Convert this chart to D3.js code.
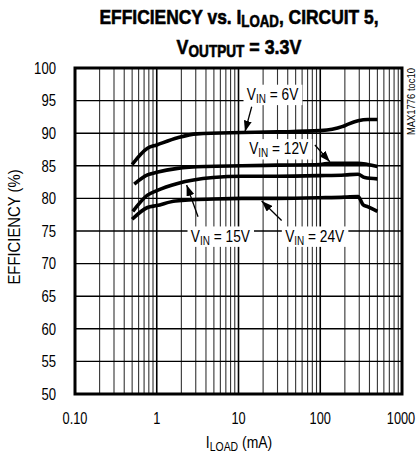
<!DOCTYPE html>
<html>
<head>
<meta charset="utf-8">
<script src="https://cdn.jsdelivr.net/npm/d3@7"></script>
<style>
body { margin: 0; background: #fff; }
text { font-family: "Liberation Sans", Arial, sans-serif; fill: #000; }
</style>
</head>
<body>
<svg id="chart" width="417" height="454"></svg>
<script>
// x axis (load current, mA) and y axis (efficiency, %)
var xTicks = [0.1, 1, 10, 100, 1000];
var xTickLabels = ["0.10", "1", "10", "100", "1000"];
var yTicks = [50, 55, 60, 65, 70, 75, 80, 85, 90, 95, 100];

// one series per input voltage
var seriesNames = ["6V", "12V", "15V", "24V"];
var load6V = [0.5, 0.77, 1, 1.8, 3.1, 11, 30, 100, 140, 185, 220, 290, 380, 500];
var eff6V = [85.2, 87.7, 88.2, 89.3, 89.9, 90.1, 90.2, 90.4, 90.6, 91.0, 91.4, 91.9, 92.1, 92.1];
var load12V = [0.53, 0.77, 1, 1.8, 4, 11, 30, 100, 130, 290, 380, 500];
var eff12V = [82.2, 83.6, 84.0, 84.6, 84.9, 85.0, 85.1, 85.2, 85.4, 85.4, 85.2, 84.9];
var load15V = [0.51, 0.77, 1, 1.8, 4.9, 11, 30, 100, 200, 290, 350, 500];
var eff15V = [78.0, 80.5, 81.2, 82.3, 83.2, 83.4, 83.4, 83.5, 83.6, 83.7, 83.2, 83.0];
var load24V = [0.5, 0.77, 1, 1.7, 5, 11, 30, 100, 200, 290, 335, 384, 500];
var eff24V = [76.8, 78.6, 78.9, 79.6, 79.9, 80.0, 80.0, 80.1, 80.2, 80.3, 79.0, 78.7, 78.0];

// callouts: label centre, arrow tail and arrow tip, in data units
var calloutLabelAt = [[26.1, 95.1], [31, 86.76], [6.0, 73.36], [85.5, 73.36]];
var calloutFrom = [[14.5, 94.06], [86, 88.19], [3.2, 77.2], [33.7, 76.6]];
var calloutTo = [[12, 90.23], [131, 85.63], [2.32, 82.06], [19.2, 79.6]];

var loads = [load6V, load12V, load15V, load24V];
var effs = [eff6V, eff12V, eff15V, eff24V];

var margin = { left: 75, right: 15, top: 68, bottom: 60 };
var W = 417, H = 454;

var svg = d3.select("#chart");

// no condensed face installed: squeeze the text horizontally instead
function squeeze(sel, k) {
	sel.each(function() {
		var s = d3.select(this);
		var tx = +s.attr("x") || 0, ty = +s.attr("y") || 0;
		var t = s.attr("transform") || "";
		s.attr("x", 0).attr("y", 0)
			.attr("transform", "translate(" + tx + "," + ty + ") " + t + " scale(" + k + ",1)");
	});
}

var x = d3.scaleLog()
	.domain([0.1, 1000])
	.range([margin.left, W - margin.right]);
var y = d3.scaleLinear()
	.domain([50, 100])
	.range([H - margin.bottom, margin.top]);

// minor/major vertical grid lines, 1..9 per decade
var xGrid = [];
for (var dec = 0; dec < xTicks.length - 1; dec++) {
	for (var m = 2; m <= 9; m++) xGrid.push({ v: xTicks[dec] * m, major: false });
}
xTicks.forEach(function(t) { xGrid.push({ v: t, major: true }); });

var grid = svg.append("g").attr("class", "grid");
grid.selectAll("line.v")
	.data(xGrid)
	.enter().append("line")
	.attr("class", "v")
	.attr("x1", function(d) { return x(d.v); })
	.attr("x2", function(d) { return x(d.v); })
	.attr("y1", y(50))
	.attr("y2", y(100))
	.style("stroke", function(d) { return d.major ? "#000" : "#333"; })
	.style("stroke-width", function(d) { return d.major ? 1.6 : 1.1; });

grid.selectAll("line.h")
	.data(yTicks)
	.enter().append("line")
	.attr("class", "h")
	.attr("x1", x(0.1))
	.attr("x2", x(1000))
	.attr("y1", function(d) { return y(d); })
	.attr("y2", function(d) { return y(d); })
	.style("stroke", "#000")
	.style("stroke-width", 1.4);

// frame
svg.append("rect")
	.attr("x", x(0.1))
	.attr("y", y(100))
	.attr("width", x(1000) - x(0.1))
	.attr("height", y(50) - y(100))
	.style("fill", "none")
	.style("stroke", "#000")
	.style("stroke-width", 3);

// tick labels
var yl = svg.append("g").selectAll("text")
	.data(yTicks)
	.enter().append("text")
	.attr("x", 56)
	.attr("y", function(d) { return y(d); })
	.attr("dy", "0.36em")
	.attr("text-anchor", "end")
	.style("font-size", "16px")
	.text(function(d) { return d; });
squeeze(yl, 0.82);

var xtl = svg.append("g").selectAll("text")
	.data(xTicks)
	.enter().append("text")
	.attr("x", function(d, i) { return i == xTicks.length - 1 ? x(d) - 1 : x(d); })
	.attr("y", 424)
	.attr("text-anchor", "middle")
	.style("font-size", "16px")
	.text(function(d, i) { return xTickLabels[i]; });
squeeze(xtl, 0.8);

// axis titles
var xl = svg.append("text")
	.attr("x", 239)
	.attr("y", 448)
	.attr("text-anchor", "middle")
	.style("font-size", "16px");
xl.append("tspan").text("I");
xl.append("tspan").attr("dy", 2.5).style("font-size", "12px").text("LOAD");
xl.append("tspan").attr("dy", -2.5).text(" (mA)");
squeeze(xl, 0.87);

var ylab = svg.append("text")
	.attr("transform", "translate(20,227) rotate(-90)")
	.attr("text-anchor", "middle")
	.style("font-size", "16.5px")
	.text("EFFICIENCY (%)");
squeeze(ylab, 0.9);

var code = svg.append("text")
	.attr("transform", "translate(415,68) rotate(-90)")
	.attr("text-anchor", "end")
	.style("font-size", "10.5px")
	.text("MAX1776 toc10");
squeeze(code, 0.9);

// title
var t1 = svg.append("text")
	.attr("x", 239)
	.attr("y", 24)
	.attr("text-anchor", "middle")
	.style("font-size", "21px")
	.style("font-weight", "bold")
	.style("stroke", "#000")
	.style("stroke-width", 0.6);
t1.append("tspan").text("EFFICIENCY vs. I");
t1.append("tspan").attr("dy", 3).style("font-size", "16px").text("LOAD");
t1.append("tspan").attr("dy", -3).text(", CIRCUIT 5,");
squeeze(t1, 0.83);

var t2 = svg.append("text")
	.attr("x", 239)
	.attr("y", 54)
	.attr("text-anchor", "middle")
	.style("font-size", "21px")
	.style("font-weight", "bold")
	.style("stroke", "#000")
	.style("stroke-width", 0.6);
t2.append("tspan").text("V");
t2.append("tspan").attr("dy", 3).style("font-size", "16px").text("OUTPUT");
t2.append("tspan").attr("dy", -3).text(" = 3.3V");
squeeze(t2, 0.85);

// callout label boxes (white, drawn over the grid)
var labels = svg.append("g");
seriesNames.forEach(function(name, i) {
	var g = labels.append("g")
		.attr("transform", "translate(" + x(calloutLabelAt[i][0]) + "," + y(calloutLabelAt[i][1]) + ") scale(0.83,1)");
	var txt = g.append("text")
		.attr("text-anchor", "middle")
		.style("font-size", "16.5px");
	txt.append("tspan").text("V");
	txt.append("tspan").attr("dy", 3).style("font-size", "12px").text("IN");
	txt.append("tspan").attr("dy", -3).text(" = " + name);
	var bb = txt.node().getBBox();
	g.insert("rect", "text")
		.attr("x", bb.x - 4)
		.attr("y", bb.y)
		.attr("width", bb.width + 8)
		.attr("height", bb.height)
		.style("fill", "#fff");
});

// curves
var line = d3.line()
	.x(function(d) { return x(d[0]); })
	.y(function(d) { return y(d[1]); })
	.curve(d3.curveMonotoneX);

svg.append("g").selectAll("path")
	.data(seriesNames)
	.enter().append("path")
	.attr("d", function(d, i) {
		return line(d3.zip(loads[i], effs[i]));
	})
	.style("fill", "none")
	.style("stroke", "#000")
	.style("stroke-width", 3.6)
	.style("stroke-linejoin", "round");

// arrows
svg.append("defs").append("marker")
	.attr("id", "head")
	.attr("markerUnits", "userSpaceOnUse")
	.attr("markerWidth", 11)
	.attr("markerHeight", 8)
	.attr("refX", 11)
	.attr("refY", 4)
	.attr("orient", "auto")
	.append("path")
	.attr("d", "M0,0 L11,4 L0,8 Z")
	.style("fill", "#000");

svg.append("g").selectAll("line")
	.data(seriesNames)
	.enter().append("line")
	.attr("x1", function(d, i) { return x(calloutFrom[i][0]); })
	.attr("y1", function(d, i) { return y(calloutFrom[i][1]); })
	.attr("x2", function(d, i) { return x(calloutTo[i][0]); })
	.attr("y2", function(d, i) { return y(calloutTo[i][1]); })
	.attr("marker-end", "url(#head)")
	.style("stroke", "#000")
	.style("stroke-width", 1.3);
</script>
</body>
</html>
